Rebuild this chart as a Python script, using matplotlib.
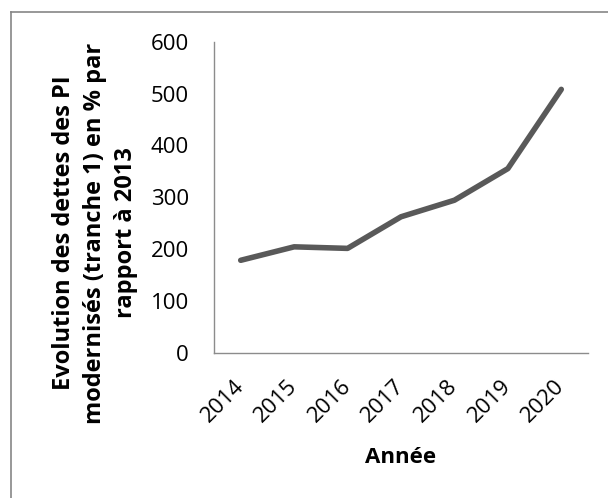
#!/usr/bin/env python
# -*- coding: utf-8 -*-

"""
Evolution des dettes des PI modernisés (tranche 1), base 2013.
"""

import matplotlib
matplotlib.use("Agg")
import matplotlib.pyplot as plt
from matplotlib.lines import Line2D

# Data.
annees = ["2014", "2015", "2016", "2017", "2018", "2019", "2020"]
evolution_pct = [178, 204, 201, 262, 294, 355, 508]

y_ticks = [0, 100, 200, 300, 400, 500, 600]

ylabel = "Evolution des dettes des PI\nmodernisés (tranche 1) en % par\nrapport à 2013"
xlabel = "Année"

if __name__ == '__main__':
    plt.rcParams['font.family'] = ['Open Sans', 'DejaVu Sans']

    fig = plt.figure(figsize=(6.08, 4.98), dpi=100)
    ax = fig.add_axes([214 / 608, 1 - 352.5 / 498, (588 - 214) / 608, (352.5 - 41.7) / 498])

    positions = list(range(len(annees)))
    ax.plot(positions, evolution_pct, color='#595959', linewidth=4.0,
            solid_joinstyle='round', solid_capstyle='round')

    ax.set_xlim(-0.5, len(annees) - 0.5)
    ax.set_ylim(0, 600)
    ax.set_yticks(y_ticks)
    ax.set_xticks(positions)
    ax.set_xticklabels(annees, rotation=45, ha='right', va='center',
                       rotation_mode='anchor')

    ax.tick_params(axis='y', length=0, pad=18, labelsize=16)
    ax.tick_params(axis='x', length=0, pad=22, labelsize=16)

    for side in ['top', 'right']:
        ax.spines[side].set_visible(False)
    for side in ['left', 'bottom']:
        ax.spines[side].set_color('#8c8c8c')
        ax.spines[side].set_linewidth(1.0)

    fig.text(95 / 608, 1 - 233 / 498, ylabel, rotation=90, ha='center', va='center',
             fontsize=17, fontweight='bold', multialignment='center', linespacing=1.38)
    fig.text(401 / 608, 1 - 457 / 498, xlabel, ha='center', va='center',
             fontsize=16, fontweight='bold')

    # chart frame (only left and top edges fall inside the image)
    x0 = 10.5 / 608
    y0 = 1 - 12.5 / 498
    fig.add_artist(Line2D([x0, x0], [0, y0], transform=fig.transFigure,
                          color='#868686', linewidth=1.2))
    fig.add_artist(Line2D([x0, 1], [y0, y0], transform=fig.transFigure,
                          color='#868686', linewidth=1.2))

    fig.savefig('out.png', dpi=100)
